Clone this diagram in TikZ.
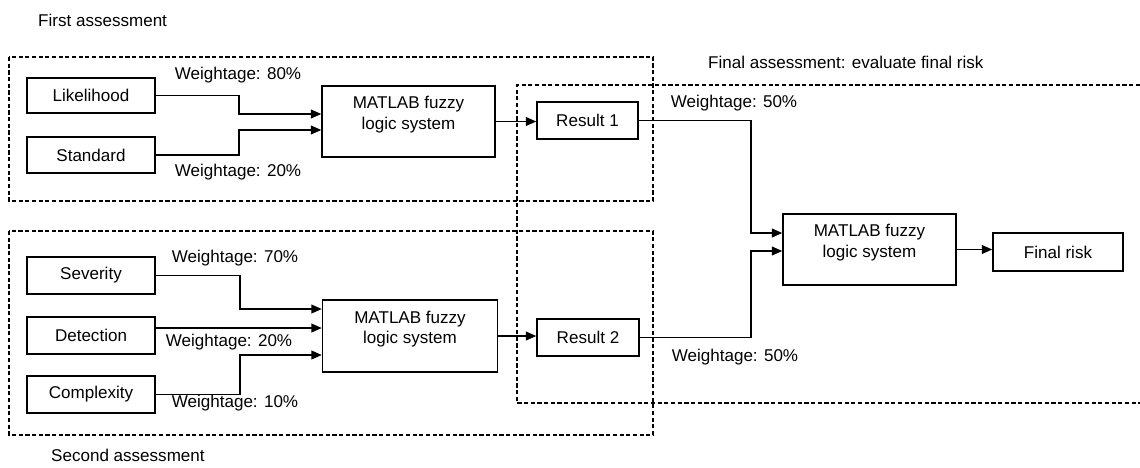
\documentclass[tikz,border=0pt]{standalone}
\usepackage{fontspec}
\setmainfont{Liberation Sans}
\usetikzlibrary{arrows.meta}
\tikzset{blk/.style={draw,line width=0.8pt,align=center,inner sep=1pt},
  fls/.style={blk,minimum width=3.46cm,minimum height=1.42cm,
    label={[align=center,yshift=0.14cm]center:MATLAB fuzzy\\logic system}},
  grp/.style={dashed,line width=0.75pt,dash pattern=on 2.4pt off 1.4pt},
  flow/.style={line width=0.95pt,-{Triangle[length=6pt,width=5pt]}}}

\begin{document}
\begin{tikzpicture}[x=0.02cm,y=-0.02cm,font=\fontsize{9.7}{11.5}\selectfont]
      \useasboundingbox (0,0) rectangle (1140,467);
      % assessment groups
      \draw[grp] (9,57) rectangle (653,201);
      \draw[grp] (9,231) rectangle (653,435);
      \draw[grp] (1140,85) -- (517,85) -- (517,403) -- (1140,403);
      \node[anchor=west] (t1) at (32,20) {First assessment};
      \node[anchor=west] (t2) at (45,455) {Second assessment};
      \node[anchor=west] (t3) at (702,62) {Final assessment: evaluate final risk};

      % first assessment
      \node[blk,minimum width=2.56cm,minimum height=0.7cm] (lik) at (91,95.5) {Likelihood};
      \node[blk,minimum width=2.56cm,minimum height=0.72cm] (std) at (91,155) {Standard};
      \node[fls] (fls1) at (408.5,121.5) {};
      \node[blk,minimum width=2.02cm,minimum height=0.74cm] (res1) at (587.5,120.5) {Result 1};
      \draw[flow] (lik.east) -- ++(83,0) |- ([yshift=0.15cm]fls1.west);
      \draw[flow] (std.east) -- ++(83,0) |- ([yshift=-0.17cm]fls1.west);
      \draw[flow] (fls1.east) -- (fls1.east -| res1.west);
      \node (w80) at (238,75) {Weightage: 80\%};
      \node (w20a) at (238,172) {Weightage: 20\%};

      % second assessment
      \node[blk,minimum width=2.56cm,minimum height=0.74cm] (sev) at (91,275.5) {Severity};
      \node[blk,minimum width=2.56cm,minimum height=0.74cm] (det) at (91,335.5) {Detection};
      \node[blk,minimum width=2.56cm,minimum height=0.74cm] (cpx) at (91,394.5) {Complexity};
      \node[fls,minimum width=3.5cm,minimum height=1.44cm] (fls2) at (410,336) {};
      \node[blk,minimum width=2.04cm,minimum height=0.74cm] (res2) at (588,337.5) {Result 2};
      \coordinate (in22) at ([yshift=0.16cm]fls2.west);
      \draw[flow] (sev.east) -- ++(84,0) |- ([yshift=0.54cm]fls2.west);
      \draw[flow] (det.east |- in22) -- (in22);
      \draw[flow] (cpx.east) -- ++(84,0) |- ([yshift=-0.38cm]fls2.west);
      \draw[flow] (fls2.east) -- (fls2.east -| res2.west);
      \node (w70) at (235,258) {Weightage: 70\%};
      \node (w20b) at (229,342) {Weightage: 20\%};
      \node (w10) at (235,403) {Weightage: 10\%};

      % final assessment
      \node[fls] (fls3) at (869.5,249.5) {};
      \node[blk,minimum width=2.6cm,minimum height=0.76cm] (fin) at (1058,252) {Final risk};
      \draw[flow] (res1.east) -- ++(112,0) |- ([yshift=0.33cm]fls3.west);
      \draw[flow] (res2.east) -- ++(111,0) |- ([yshift=-0.03cm]fls3.west);
      \draw[flow] (fls3.east) -- (fls3.east -| fin.west);
      \node (w50a) at (734,103) {Weightage: 50\%};
      \node (w50b) at (735,357) {Weightage: 50\%};
    \end{tikzpicture}
\end{document}
